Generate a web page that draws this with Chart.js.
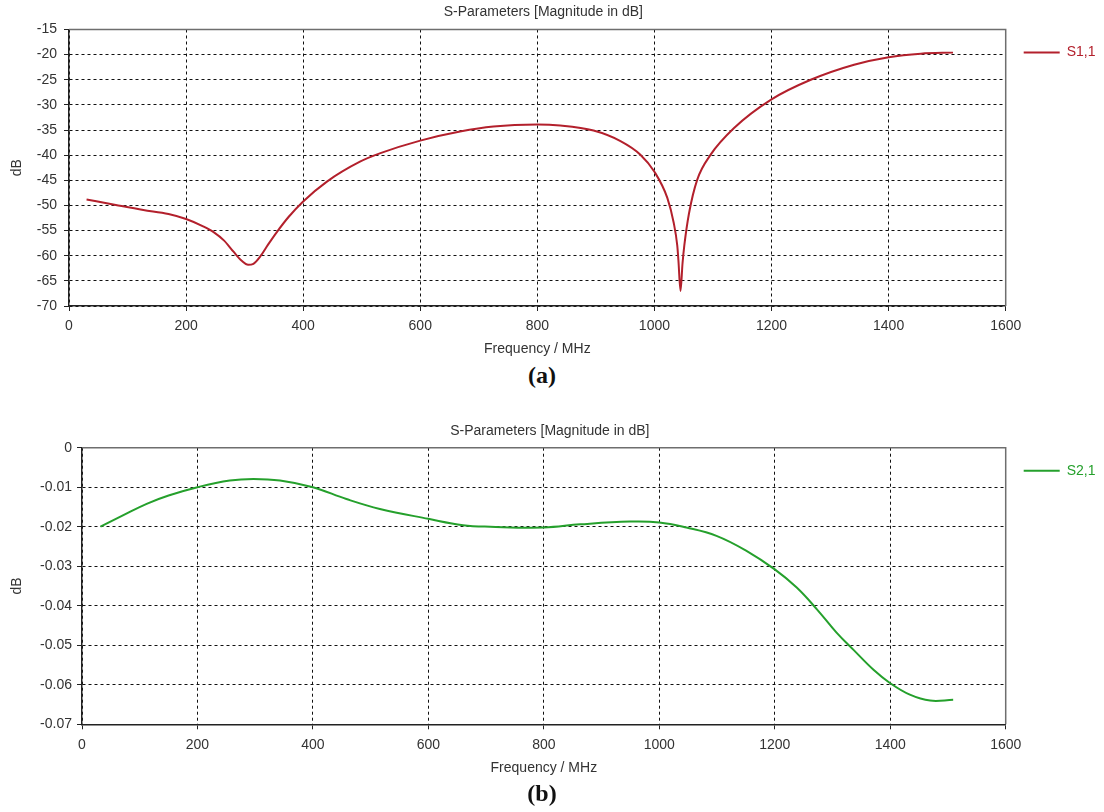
<!DOCTYPE html>
<html lang="en">

<head>
    <meta charset="UTF-8">
    <meta name="viewport" content="width=device-width, initial-scale=1.0">
    <style>
        body { margin: 0; background: #fff; width: 1104px; height: 812px; position: relative; overflow: hidden; }
        canvas { position: absolute; left: 0; }
        .tag { position: absolute; width: 80px; text-align: center; font: bold 24px "Liberation Serif", "Times New Roman", serif; color: #111; }
    </style>
</head>

<body>
    <canvas id="chartA" width="1104" height="360" style="top:0"></canvas>
    <canvas id="chartB" width="1104" height="412" style="top:400px"></canvas>
    <div class="tag" style="left:502px; top:362px;">(a)</div>
    <div class="tag" style="left:502px; top:780px;">(b)</div>

    <script src="https://cdn.jsdelivr.net/npm/chart.js"></script>

    <script>
        // S1,1 sweep
        const freqS11 = [30, 80, 127, 170, 200, 230, 247, 265, 281, 295, 306, 315, 327, 340, 355, 375, 400, 440, 497, 532,
            600, 668, 725, 800, 839, 896, 942, 976, 1000, 1022, 1033, 1039, 1041, 1044.5, 1048, 1051, 1059, 1073, 1096,
            1136, 1200, 1267, 1341, 1400, 1455, 1510];
        const s11 = [-48.8, -49.9, -50.9, -51.7, -52.7, -54.2, -55.3, -57.0, -59.2, -61.0, -61.8, -61.6, -60.1, -57.8,
            -55.3, -52.3, -49.2, -45.3, -41.3, -39.6, -37.1, -35.3, -34.3, -33.9, -34.1, -35.1, -37.2, -39.9, -43.3,
            -48.5, -53.5, -58.0, -61.0, -67.0, -61.5, -58.0, -51.6, -44.9, -39.9, -34.6, -28.9, -25.0, -22.0, -20.5,
            -19.8, -19.6];

        // S2,1 sweep
        const freqS21 = [32, 70, 112, 150, 200, 256, 297, 343, 400, 458, 516, 600, 660, 707, 800, 863, 949, 1000, 1047,
            1099, 1151, 1200, 1238, 1273, 1307, 1336, 1371, 1400, 1434, 1469, 1509];
        const s21 = [-0.0200, -0.0172, -0.0142, -0.0121, -0.0100, -0.0083, -0.0079, -0.0083, -0.0100, -0.0130, -0.0155,
            -0.0180, -0.0196, -0.0200, -0.0202, -0.0194, -0.0187, -0.0189, -0.0202, -0.0223, -0.0261, -0.0308, -0.0354,
            -0.0409, -0.0468, -0.0511, -0.0562, -0.0596, -0.0625, -0.0640, -0.0638];

        const freqTicks = [0, 200, 400, 600, 800, 1000, 1200, 1400, 1600];
        const s11Ticks = [-70, -65, -60, -55, -50, -45, -40, -35, -30, -25, -20, -15];
        const s21Ticks = [-0.07, -0.06, -0.05, -0.04, -0.03, -0.02, -0.01, 0];

        const plotTitle = 'S-Parameters [Magnitude in dB]';

        Chart.defaults.font.family = '"Liberation Sans", Arial, sans-serif';
        Chart.defaults.font.size = 14;
        Chart.defaults.color = '#333';

        // title above the plot box, legend to its right, grey top/right frame
        const frame = {
            id: 'frame',
            afterDraw(chart) {
                const { ctx, chartArea: a } = chart;
                ctx.save();
                ctx.strokeStyle = '#6e6e6e';
                ctx.lineWidth = 1.5;
                ctx.beginPath();
                ctx.moveTo(a.left, a.top);
                ctx.lineTo(a.right, a.top);
                ctx.lineTo(a.right, a.bottom);
                ctx.stroke();

                ctx.font = '14px "Liberation Sans", Arial, sans-serif';
                ctx.fillStyle = '#333';
                ctx.textAlign = 'center';
                ctx.textBaseline = 'middle';
                ctx.fillText(plotTitle, (a.left + a.right) / 2 + 6, a.top - 17);

                chart.data.datasets.forEach((ds, i) => {
                    const y = a.top + 23 + i * 20;
                    ctx.strokeStyle = ds.borderColor;
                    ctx.lineWidth = 2;
                    ctx.beginPath();
                    ctx.moveTo(a.right + 18, y);
                    ctx.lineTo(a.right + 54, y);
                    ctx.stroke();
                    ctx.fillStyle = ds.borderColor;
                    ctx.textAlign = 'left';
                    ctx.fillText(ds.label, a.right + 61, y);
                });
                ctx.restore();
            }
        };

        function makeChart(id, o) {
            return new Chart(document.getElementById(id), {
                type: 'line',
                data: {
                    datasets: [{
                        label: o.label,
                        data: o.freq.map((f, i) => ({ x: f, y: o.values[i] })),
                        borderColor: o.color,
                        borderWidth: 2,
                        pointRadius: 0,
                        ...o.curve
                    }]
                },
                options: {
                    responsive: false,
                    animation: false,
                    devicePixelRatio: 1,
                    layout: { padding: { top: o.top, right: 98.3, left: 0, bottom: 0 } },
                    plugins: { legend: { display: false }, tooltip: { enabled: false } },
                    scales: {
                        x: {
                            type: 'linear',
                            min: 0,
                            max: 1600,
                            afterBuildTicks: s => { s.ticks = freqTicks.map(v => ({ value: v })); },
                            afterFit: s => { s.height = o.xHeight; },
                            ticks: { padding: 7, maxRotation: 0, callback: v => String(v) },
                            grid: { color: '#111', tickColor: '#222', tickLength: 5 },
                            border: { color: '#222', width: 1.5, dash: [3, 3] },
                            title: { display: true, text: 'Frequency / MHz', padding: { top: 0, bottom: o.titlePad } }
                        },
                        y: {
                            type: 'linear',
                            min: o.ticks[0],
                            max: o.ticks[o.ticks.length - 1],
                            afterBuildTicks: s => { s.ticks = o.ticks.map(v => ({ value: v })); },
                            afterFit: s => { s.width = o.yWidth; },
                            ticks: { padding: o.yPad, callback: o.fmt },
                            grid: { color: '#111', tickColor: '#222', tickLength: 5 },
                            border: { color: '#222', width: 1.5, dash: [3, 3] },
                            title: { display: true, text: 'dB', padding: { top: 9, bottom: 0 } }
                        }
                    }
                },
                plugins: [frame]
            });
        }

        makeChart('chartA', {
            label: 'S1,1', freq: freqS11, values: s11, color: '#b3202c',
            curve: { cubicInterpolationMode: 'monotone' },
            ticks: s11Ticks, top: 29.5, xHeight: 54, titlePad: 2.6, yWidth: 69, yPad: 7,
            fmt: v => String(v)
        });

        makeChart('chartB', {
            label: 'S2,1', freq: freqS21, values: s21, color: '#25a02c',
            curve: { tension: 0.4 },
            ticks: s21Ticks, top: 47.7, xHeight: 87.7, titlePad: 35.6, yWidth: 82, yPad: 5,
            fmt: v => (Math.abs(v) < 1e-9 ? '0' : v.toFixed(2))
        });
    </script>
</body>

</html>
